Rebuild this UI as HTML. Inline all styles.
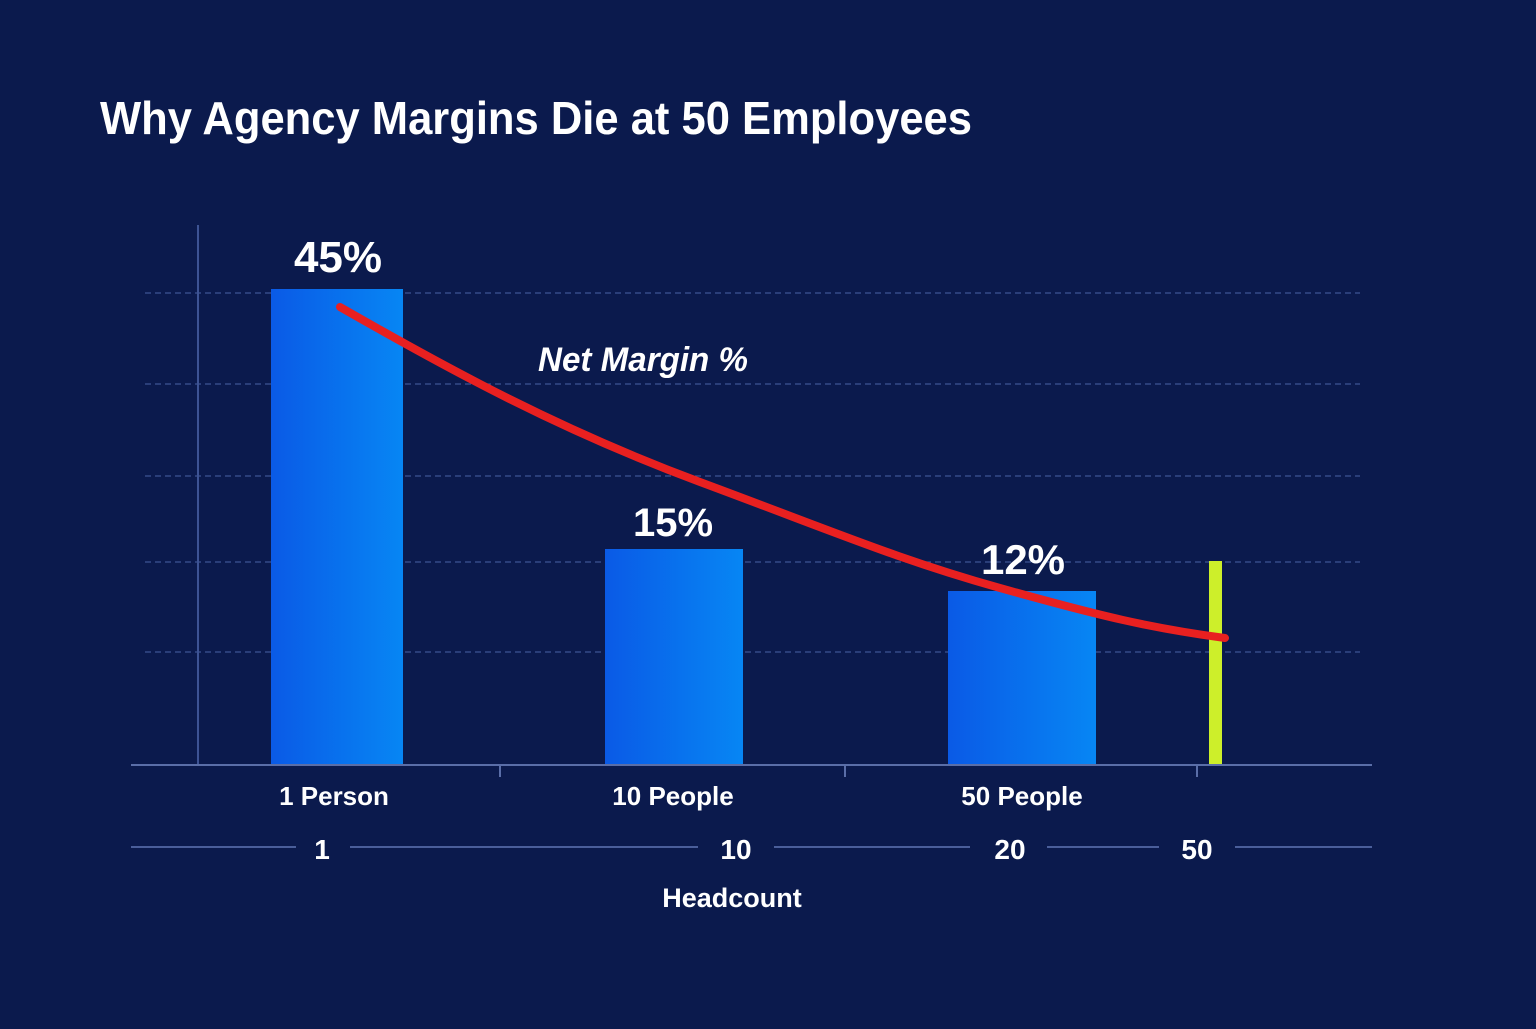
<!DOCTYPE html>
<html><head><style>
body{margin:0;background:#0b1a4d;}
text{font-family:"Liberation Sans",sans-serif;fill:#fff;font-weight:bold;}
</style></head><body>
<svg width="1536" height="1024" viewBox="0 0 1536 1024" xmlns="http://www.w3.org/2000/svg">
<defs>
<linearGradient id="b" x1="0" x2="1" y1="0" y2="0"><stop offset="0" stop-color="#0a5ae6"/><stop offset="1" stop-color="#0786f4"/></linearGradient>
</defs>
<rect width="1536" height="1024" fill="#0b1a4d"/>
<text x="100" y="134" font-size="46" textLength="872" lengthAdjust="spacingAndGlyphs">Why Agency Margins Die at 50 Employees</text>
<g stroke="#3d5394" stroke-width="1.3" stroke-dasharray="6 4">
<line x1="145" y1="293" x2="1360" y2="293"/>
<line x1="145" y1="384" x2="1360" y2="384"/>
<line x1="145" y1="476" x2="1360" y2="476"/>
<line x1="145" y1="562" x2="1360" y2="562"/>
<line x1="145" y1="652" x2="1360" y2="652"/>
</g>
<line x1="198" y1="225" x2="198" y2="765" stroke="#3d5394" stroke-width="2"/>
<rect x="271" y="289" width="132" height="476" fill="url(#b)"/>
<rect x="605" y="549" width="138" height="216" fill="url(#b)"/>
<rect x="948" y="591" width="148" height="174" fill="url(#b)"/>
<rect x="1209" y="561" width="13" height="204" fill="#cdef2a"/>
<line x1="131" y1="765" x2="1372" y2="765" stroke="#5a6ea8" stroke-width="2"/>
<g stroke="#5a6ea8" stroke-width="2">
<line x1="500" y1="765" x2="500" y2="777"/><line x1="845" y1="765" x2="845" y2="777"/><line x1="1197" y1="765" x2="1197" y2="777"/>
</g>
<path d="M340 307 C 450 370, 560 430, 700 482 S 900 560, 1000 588 S 1150 628, 1225 638" fill="none" stroke="#e82020" stroke-width="8" stroke-linecap="round"/>
<text x="338" y="272" font-size="44" text-anchor="middle">45%</text>
<text x="673" y="536" font-size="40" text-anchor="middle">15%</text>
<text x="1023" y="574" font-size="42" text-anchor="middle">12%</text>
<text x="538" y="371" font-size="34" font-style="italic" textLength="210" lengthAdjust="spacingAndGlyphs">Net Margin %</text>
<text x="334" y="805" font-size="26" text-anchor="middle">1 Person</text>
<text x="673" y="805" font-size="26" text-anchor="middle">10 People</text>
<text x="1022" y="805" font-size="26" text-anchor="middle">50 People</text>
<g stroke="#4a5e9a" stroke-width="2">
<line x1="131" y1="847" x2="296" y2="847"/><line x1="350" y1="847" x2="698" y2="847"/>
<line x1="774" y1="847" x2="970" y2="847"/><line x1="1047" y1="847" x2="1159" y2="847"/>
<line x1="1235" y1="847" x2="1372" y2="847"/>
</g>
<text x="322" y="859" font-size="28" text-anchor="middle">1</text>
<text x="736" y="859" font-size="28" text-anchor="middle">10</text>
<text x="1010" y="859" font-size="28" text-anchor="middle">20</text>
<text x="1197" y="859" font-size="28" text-anchor="middle">50</text>
<text x="732" y="907" font-size="27" text-anchor="middle">Headcount</text>
</svg>
</body></html>
